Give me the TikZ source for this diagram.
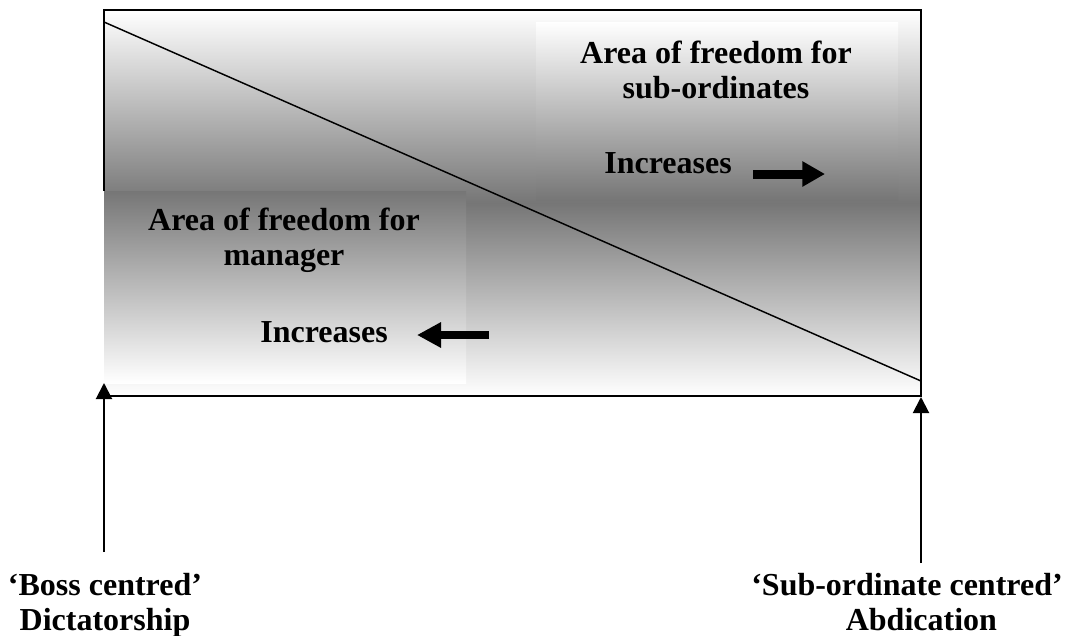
\documentclass[tikz,border=0pt]{standalone}
\usepackage{fontspec}
\setmainfont{Liberation Serif}
\usepackage{tikz}
\usetikzlibrary{arrows.meta,positioning}
\definecolor{shadegray}{RGB}{118,118,118}

\begin{document}
\begin{tikzpicture}[x=0.75pt,y=-0.75pt,
  every node/.style={inner sep=0pt, outer sep=0pt, font=\bfseries\fontsize{24}{26.25}\selectfont},
  label text/.style={align=center},
  block arrow/.style={line width=#1},
  pointer/.style={line width=1.5pt, -{Triangle[length=12pt,width=12pt]}}]
\useasboundingbox (0,0) rectangle (1065,636);
% frame corners
\coordinate (tl) at (104,10);
\coordinate (tr) at (921,10);
\coordinate (bl) at (104,396);
\coordinate (br) at (921,396);
% shaded field and the two areas
\shade[top color=white, bottom color=white, middle color=shadegray] (tl) rectangle (br);
\shade[top color=shadegray, bottom color=white] (104,191) rectangle (466,383);
\shade[top color=white, bottom color=shadegray] (536,22) rectangle (898,200);
\draw[line width=1.5pt] (104,191) -- (tl) -- (tr) -- (br) -- (bl);
% dividing line
\coordinate (dtop) at (104,22);
\coordinate (dbot) at (921,381);
\draw[line width=1.1pt] (dtop) -- (dbot);
% texts
\node[label text] (subtext) at (716,70) {Area of freedom for\\sub-ordinates};
\node[anchor=base] (incright) at (668,173) {Increases};
\node[label text] (mgrtext) at (284,240) {Area of freedom for\\manager};
\node[anchor=base] (incleft) at (324,342) {Increases};
\node[label text] (bosslabel) at (105,605) {‘Boss centred’\\Dictatorship};
\node[label text] (sublabel) at (907,602) {‘Sub-ordinate centred’\\\hspace*{0.9em}Abdication};
% increase arrows
\coordinate (rtail) at (753,174);
\coordinate (rhead) at (825,174);
\draw[block arrow=6.75pt, -{Triangle[length=17pt,width=18pt]}] (rtail) -- (rhead);
\coordinate (ltail) at (489,335);
\coordinate (lhead) at (417,335);
\draw[block arrow=6pt, -{Triangle[length=18pt,width=18pt]}] (ltail) -- (lhead);
% pointers from the labels
\coordinate (bossfoot) at (104,552);
\coordinate (bosstip) at (104,383);
\coordinate (subfoot) at (921,563);
\coordinate (subtip) at (921,397);
\draw[pointer] (bossfoot) -- (bosstip);
\draw[pointer] (subfoot) -- (subtip);
\end{tikzpicture}
\end{document}
